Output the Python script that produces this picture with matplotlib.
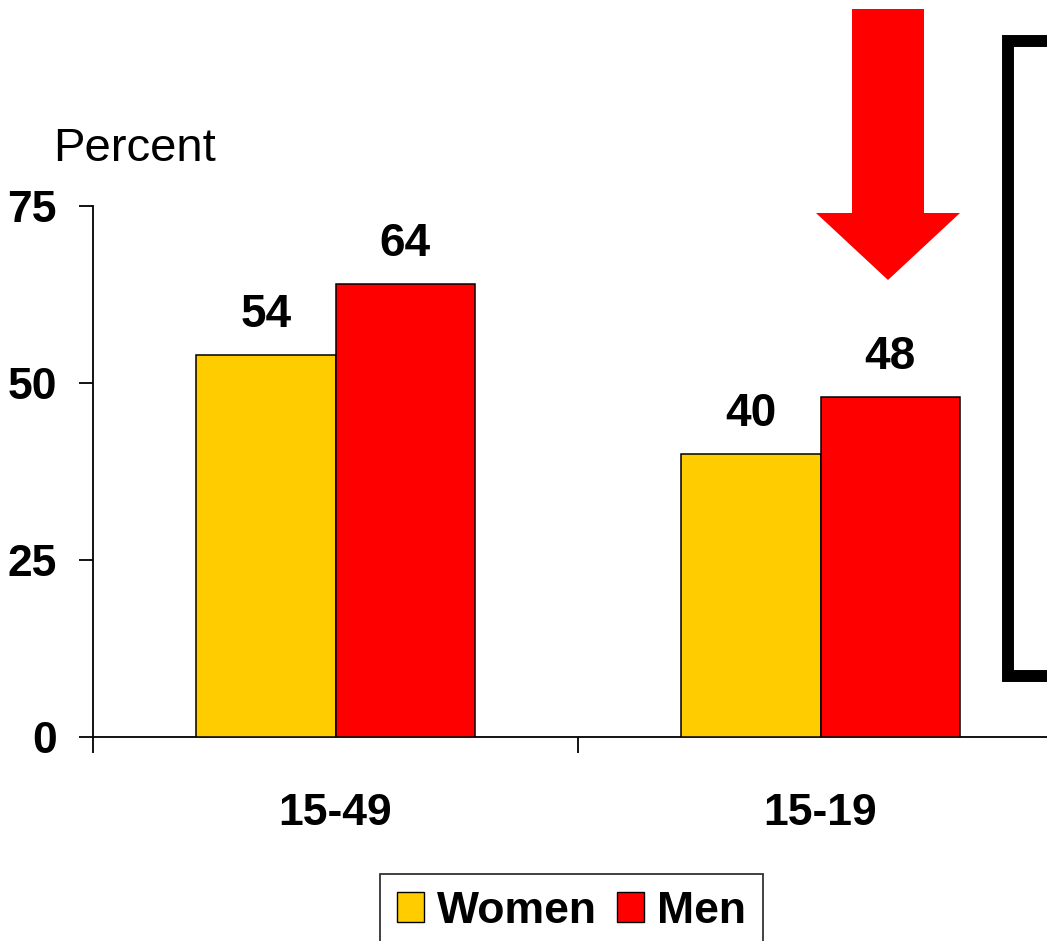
import matplotlib
matplotlib.use("Agg")
import matplotlib.pyplot as plt
from matplotlib.patches import Polygon, Patch
from matplotlib.lines import Line2D

# Data
age_groups = ["15-49", "15-19"]
women = [54, 40]
men = [64, 48]
y_ticks = [0, 25, 50, 75]
series_names = ["Women", "Men"]
colors = ["#FFCC00", "#FF0000"]

plt.rcParams["font.family"] = ["Liberation Sans", "DejaVu Sans"]

W, H = 1047, 941
fig = plt.figure(figsize=(W / 100, H / 100), dpi=100)
fig.patch.set_facecolor("white")

# Axes spans past the right edge so each category occupies equal halves
ax = fig.add_axes([93 / W, (H - 737) / H, 970 / W, 531 / H])

bar_w = 0.287
xs = list(range(len(age_groups)))
for vals, color, off in [(women, colors[0], -bar_w / 2), (men, colors[1], bar_w / 2)]:
    bars = ax.bar([x + off for x in xs], vals, width=bar_w, color=color,
                  edgecolor="black", linewidth=1.1, zorder=3)
    for b, v in zip(bars, vals):
        ax.annotate(f"{v}", (b.get_x() + b.get_width() / 2, v),
                    xytext=(0, 13), textcoords="offset points",
                    ha="center", va="bottom", fontsize=33, fontweight="bold")

ax.set_xlim(-0.5, 1.5)
ax.set_ylim(0, 75)

for s in ["top", "right"]:
    ax.spines[s].set_visible(False)
for s in ["left", "bottom"]:
    ax.spines[s].set_linewidth(1.3)
    ax.spines[s].set_color("black")

ax.set_yticks(y_ticks)
ax.set_yticklabels([str(t) for t in y_ticks], fontsize=32, fontweight="bold")
ax.tick_params(axis="y", direction="out", length=10, width=1.3, pad=16)

ax.set_xticks(xs)
ax.set_xticklabels(age_groups, fontsize=32, fontweight="bold")
ax.tick_params(axis="x", which="major", length=0, pad=40)
ax.set_xticks([-0.5, 0.5, 1.5], minor=True)
ax.tick_params(axis="x", which="minor", direction="out", length=11.5, width=1.3)

fig.text(53 / W, 1 - 161 / H, "Percent", fontsize=34, ha="left", va="baseline")

# Legend
handles = [Patch(facecolor=c, edgecolor="black", linewidth=1.0) for c in colors]
leg = fig.legend(handles, series_names, loc="upper center",
                 bbox_to_anchor=(571.5 / W, 1 - 874 / H), ncol=2,
                 frameon=True, fancybox=False, edgecolor="black",
                 prop={"size": 32, "weight": "bold"},
                 handlelength=0.6, handleheight=0.65, handletextpad=0.3,
                 columnspacing=0.45, borderpad=0.38, borderaxespad=0)
leg.get_frame().set_linewidth(1.3)

# Down arrow
arrow_pts = [(852, 9), (924, 9), (924, 213), (960, 213), (888, 280),
             (816, 213), (852, 213)]
fig.patches.append(Polygon([(x / W, 1 - y / H) for x, y in arrow_pts],
                           closed=True, facecolor="#FF0000", edgecolor="none",
                           transform=fig.transFigure))

# Bracket on the right
bx = [1060, 1008, 1008, 1060]
by = [41, 41, 676, 676]
fig.lines.append(Line2D([x / W for x in bx], [1 - y / H for y in by],
                        color="black", linewidth=8.6, solid_joinstyle="miter",
                        transform=fig.transFigure))

fig.savefig("out.png", dpi=100, facecolor="white")
